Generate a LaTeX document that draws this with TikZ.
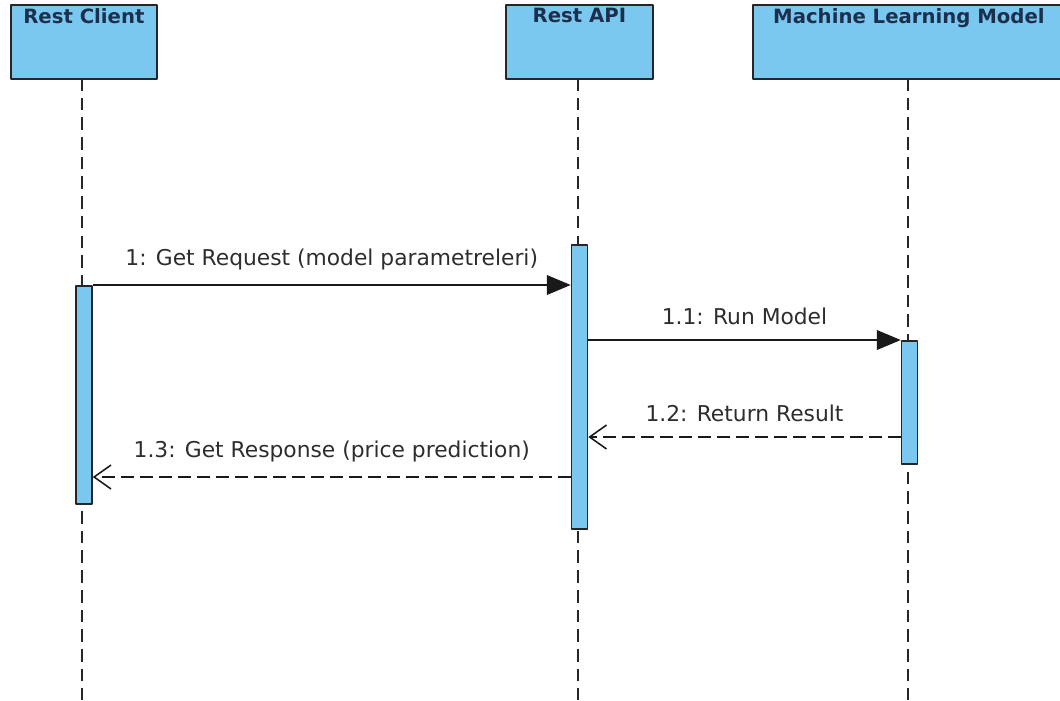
\documentclass[tikz,border=0pt]{standalone}
\usepackage{fontspec}
\setmainfont{DejaVu Sans}
\usetikzlibrary{arrows.meta}
\definecolor{lifeblue}{RGB}{122,200,240}
\definecolor{headtext}{RGB}{28,48,78}
\definecolor{msgtext}{RGB}{45,45,45}
\tikzset{
  head/.style={draw=black!85, line width=1.3pt, fill=lifeblue, minimum height=74*0.025cm,
    anchor=north west, inner sep=0pt},
  headlabel/.style={anchor=north, inner sep=3pt, text=headtext, font=\fontsize{14}{16}\selectfont\bfseries},
  bar/.style={draw=black!85, line width=1.1pt, fill=lifeblue, minimum width=16*0.025cm, inner sep=0pt, anchor=north},
  life/.style={dash pattern=on 9pt off 5pt, line width=1pt, black!85},
  call/.style={line width=1.1pt, black!90, -{Triangle[length=17pt, width=14pt]}},
  reply/.style={line width=1.1pt, black!90, dash pattern=on 9pt off 4.5pt, -{Straight Barb[length=12pt, width=17pt, line width=1.1pt]}},
  msg/.style={text=msgtext, font=\fontsize{15.5}{18}\selectfont}
}
\begin{document}
\begin{tikzpicture}[x=0.025cm, y=-0.025cm, line join=round]
	\useasboundingbox (0,0) rectangle (1060,700);
	% lifelines first, boxes over them
	\draw[life] (82,78) -- (82,700);
	\draw[life] (578,78) -- (578,700);
	\draw[life] (908,78) -- (908,700);
	\begin{scope}
		\clip (0,0) rectangle (1060,700);
		\node[head, minimum width=146*0.025cm] (client) at (10,4) {};
		\node[head, minimum width=147*0.025cm] (api) at (505,4) {};
		\node[head, minimum width=312*0.025cm] (model) at (752,4) {};
	\end{scope}
	\node[headlabel] at (client.north) {Rest Client};
	\node[headlabel] at (api.north) {Rest API};
	\node[headlabel] at (model.north) {Machine Learning Model};
	% activation bars
	\node[bar, minimum height=218*0.025cm] (clientbar) at (84,285) {};
	\node[bar, minimum height=284*0.025cm] (apibar) at (579.5,244) {};
	\node[bar, minimum height=123*0.025cm] (modelbar) at (909.5,340) {};
	\coordinate (r2) at (modelbar.west |- 0,437);
	\coordinate (r3) at (apibar.west |- 0,477);
	% messages
	\draw[call] (clientbar.north east) -- (apibar.west |- clientbar.north east)
		node[msg, midway, above=7pt] {1: Get Request (model parametreleri)};
	\draw[call] (apibar.east |- modelbar.north) -- (modelbar.north west)
		node[msg, midway, above=7pt] {1.1: Run Model};
	\draw[reply] (r2) -- (apibar.east |- r2)
		node[msg, midway, above=7pt] {1.2: Return Result};
	\draw[reply] (r3) -- (clientbar.east |- r3)
		node[msg, midway, above=7pt] {1.3: Get Response (price prediction)};
\end{tikzpicture}
\end{document}
